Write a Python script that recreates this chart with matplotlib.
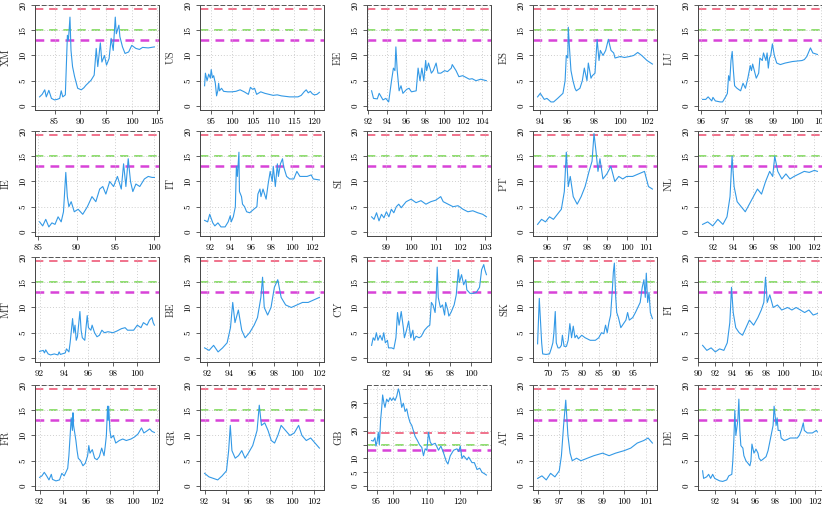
import numpy as np
import matplotlib
matplotlib.use("Agg")
import matplotlib.pyplot as plt

plt.rcParams['font.family'] = ['cmr10', 'DejaVu Serif']
plt.rcParams['axes.formatter.use_mathtext'] = True

# ---- data ----
xm_x = [82.1, 82.6, 83.1, 83.4, 83.9, 84.4, 85.0, 85.5, 86.0, 86.3, 86.6, 87.1, 87.5, 87.7, 88.0, 88.2, 88.5, 88.9,
        89.5, 90.2, 90.7, 91.1, 91.6, 92.1, 92.7, 93.1, 93.4, 93.9, 94.2, 94.7, 95.1, 95.6, 96.0, 96.4, 96.8, 97.0,
        97.5, 97.7, 98.2, 98.7, 99.4, 100.0, 100.8, 101.5, 102.1, 103.2, 104.4]
xm_y = [1.8, 2.3, 3.2, 1.8, 3.1, 1.5, 1.2, 1.3, 1.5, 3.0, 1.8, 2.2, 14.0, 13.0, 17.6, 11.0, 7.8, 5.8,
        3.5, 3.2, 3.6, 4.1, 4.6, 5.1, 6.1, 11.4, 7.8, 12.5, 8.7, 10.0, 8.1, 9.4, 13.4, 11.0, 17.6, 14.3,
        16.0, 13.7, 11.7, 10.4, 10.7, 12.0, 11.4, 11.2, 11.6, 11.5, 11.7]

us_x = [93.4, 93.6, 94.0, 94.4, 94.8, 95.0, 95.3, 95.6, 96.0, 96.3, 96.6, 96.8, 97.0, 97.5, 98.0, 99.0, 100.0, 101.0,
        102.0, 103.0, 104.0, 104.5, 105.0, 105.5, 106.0, 107.0, 108.0, 109.0, 110.0, 111.0, 112.0, 113.0, 114.0,
        115.0, 116.0, 116.8, 117.5, 118.0, 118.5, 119.0, 119.5, 120.0, 120.6, 121.2]
us_y = [4.0, 6.5, 5.0, 6.3, 5.5, 7.2, 5.6, 6.0, 4.5, 2.0, 3.0, 4.5, 3.0, 3.5, 2.9, 2.8, 2.8, 2.9,
        3.2, 2.8, 2.3, 3.7, 3.3, 3.5, 2.3, 2.8, 2.5, 2.3, 2.1, 2.2, 2.0, 1.9, 1.8,
        1.8, 1.8, 2.1, 2.8, 3.2, 2.6, 2.9, 2.4, 2.2, 2.3, 2.7]

ee_x = [92.4, 92.6, 93.0, 93.2, 93.6, 93.9, 94.2, 94.5, 94.7, 94.86, 94.96, 95.1, 95.3, 95.5, 95.7, 96.1, 96.35,
        96.6, 97.1, 97.3, 97.5, 97.7, 97.9, 98.1, 98.2, 98.4, 98.7, 98.9, 99.2, 99.4, 99.7, 100.1, 100.4, 100.8,
        100.9, 101.3, 101.6, 102.0, 102.3, 102.7, 103.0, 103.4, 103.9, 104.5]
ee_y = [3.0, 1.5, 1.4, 2.5, 1.2, 1.5, 0.8, 5.0, 7.5, 7.0, 11.7, 7.0, 3.0, 4.0, 2.5, 3.3, 3.5,
        2.8, 3.0, 7.5, 5.0, 7.5, 5.0, 9.0, 7.0, 8.5, 6.5, 7.0, 8.5, 6.5, 6.5, 7.0, 6.8, 7.5,
        8.2, 7.0, 5.8, 6.0, 5.7, 5.3, 5.4, 5.0, 5.3, 5.0]

es_x = [93.8, 94.0, 94.3, 94.5, 94.8, 95.0, 95.3, 95.5, 95.7, 95.86, 95.95, 96.06, 96.1, 96.2, 96.3, 96.45, 96.6,
        96.7, 96.97, 97.15, 97.3, 97.5, 97.6, 97.8, 97.9, 98.1, 98.26, 98.4, 98.5, 98.7, 98.9, 99.1, 99.3, 99.5,
        99.6, 100.0, 100.3, 100.7, 101.0, 101.3, 101.6, 102.0, 102.4]
es_y = [1.8, 2.5, 1.3, 1.5, 0.8, 0.8, 1.5, 2.0, 2.5, 5.0, 10.0, 9.5, 15.6, 11.0, 7.0, 5.0, 3.5,
        3.0, 3.5, 5.0, 7.5, 5.0, 8.5, 5.5, 6.0, 6.5, 13.2, 9.0, 11.0, 10.0, 11.0, 13.2, 11.0, 10.5,
        9.5, 9.8, 9.6, 9.8, 10.0, 10.6, 10.0, 9.0, 8.3]

lu_x = [96.07, 96.2, 96.3, 96.45, 96.5, 96.6, 96.8, 96.9, 97.05, 97.1, 97.15, 97.2, 97.25, 97.3, 97.35, 97.4, 97.5,
        97.65, 97.75, 97.85, 97.95, 98.05, 98.1, 98.15, 98.3, 98.4, 98.45, 98.55, 98.6, 98.7, 98.75, 98.8, 98.85,
        98.9, 98.97, 99.05, 99.15, 99.3, 99.5, 99.8, 100.2, 100.3, 100.4, 100.55, 100.65, 100.84]
lu_y = [1.3, 1.3, 1.8, 1.0, 1.7, 1.0, 0.8, 0.8, 2.0, 2.5, 6.0, 5.0, 9.0, 10.8, 7.0, 4.0, 3.5,
        3.0, 4.5, 3.5, 5.5, 8.0, 7.0, 8.3, 5.5, 6.5, 9.5, 9.0, 10.5, 9.0, 10.5, 7.5, 9.5,
        10.0, 12.3, 10.0, 8.5, 8.2, 8.5, 8.8, 9.0, 9.2, 9.8, 11.5, 10.5, 10.2]

ie_x = [85.2, 85.6, 86.0, 86.4, 86.8, 87.2, 87.6, 88.0, 88.3, 88.6, 88.8, 89.0, 89.3, 89.7, 90.2, 90.8, 91.4, 92.0,
        92.5, 93.0, 93.4, 93.8, 94.3, 94.8, 95.3, 95.8, 96.1, 96.4, 96.7, 97.0, 97.3, 97.7, 98.2, 98.8, 99.3, 99.8, 100.1]
ie_y = [2.0, 1.2, 2.5, 1.0, 1.8, 1.5, 3.0, 2.0, 4.0, 11.8, 7.0, 5.0, 6.0, 4.0, 4.5, 3.5, 5.0, 7.0,
        6.0, 8.5, 9.0, 7.5, 10.0, 9.0, 11.0, 8.5, 13.5, 9.0, 14.5, 10.0, 8.0, 9.5, 9.0, 10.5, 11.0, 10.8, 10.8]

it_x = [91.5, 91.8, 92.0, 92.3, 92.5, 92.8, 93.1, 93.5, 93.8, 94.0, 94.1, 94.3, 94.5, 94.6, 94.7, 94.85, 94.9, 95.1,
        95.2, 95.4, 95.6, 95.9, 96.3, 96.6, 96.7, 96.9, 97.0, 97.2, 97.5, 97.7, 97.9, 98.1, 98.2, 98.4, 98.6, 98.7,
        98.9, 99.1, 99.2, 99.5, 99.8, 100.2, 100.5, 100.8, 101.5, 101.9, 102.1, 102.7]
it_y = [2.3, 2.0, 3.5, 1.8, 1.2, 1.8, 1.0, 1.0, 2.0, 3.2, 2.0, 3.0, 5.0, 13.0, 11.0, 15.8, 8.0, 7.0,
        5.5, 5.0, 4.0, 3.8, 4.5, 5.0, 7.5, 8.5, 7.0, 8.5, 6.5, 9.5, 12.0, 10.0, 13.0, 9.0, 13.5, 11.0,
        13.5, 14.5, 13.0, 11.0, 10.5, 10.5, 12.0, 11.0, 11.0, 11.3, 10.5, 10.3]

si_x = [98.4, 98.5, 98.6, 98.7, 98.8, 98.9, 99.0, 99.1, 99.2, 99.3, 99.4, 99.5, 99.6, 99.8, 100.0, 100.2, 100.4,
        100.6, 100.8, 101.0, 101.2, 101.3, 101.5, 101.7, 101.9, 102.1, 102.3, 102.5, 102.7, 102.9, 103.05]
si_y = [3.0, 2.5, 3.8, 2.2, 3.5, 2.8, 4.0, 3.0, 4.5, 3.8, 5.0, 5.5, 4.8, 6.0, 6.5, 5.8, 6.2,
        5.5, 6.0, 6.3, 7.0, 6.0, 5.5, 5.0, 5.2, 4.5, 4.0, 4.2, 3.8, 3.5, 3.0]

pt_x = [95.5, 95.7, 95.9, 96.1, 96.3, 96.5, 96.7, 96.85, 96.95, 97.05, 97.15, 97.3, 97.5, 97.7, 97.9, 98.1, 98.25,
        98.35, 98.45, 98.55, 98.65, 98.8, 99.0, 99.2, 99.4, 99.6, 99.8, 100.0, 100.3, 100.6, 100.9, 101.1, 101.3]
pt_y = [1.5, 2.5, 2.0, 3.0, 2.5, 3.5, 4.5, 8.0, 15.8, 9.0, 11.0, 7.0, 5.5, 7.0, 9.0, 12.0, 14.0,
        19.5, 16.0, 12.0, 14.5, 10.5, 11.5, 13.0, 10.0, 11.0, 10.5, 11.0, 11.0, 11.5, 12.0, 9.0, 8.5]

nl_x = [91.0, 91.5, 92.0, 92.5, 93.0, 93.4, 93.7, 93.9, 94.1, 94.4, 94.8, 95.2, 95.6, 96.0, 96.4, 96.8, 97.2,
        97.6, 97.9, 98.1, 98.4, 98.8, 99.2, 99.6, 100.0, 100.5, 101.0, 101.5, 102.0, 102.3]
nl_y = [1.5, 2.0, 1.2, 2.5, 1.5, 3.0, 7.0, 15.0, 9.0, 6.0, 5.0, 4.0, 5.5, 7.0, 8.5, 7.5, 10.0,
        12.0, 11.0, 15.0, 12.0, 10.5, 11.5, 10.5, 11.0, 11.5, 12.0, 11.8, 12.2, 12.0]

mt_x = [92.0, 92.3, 92.4, 92.5, 92.7, 92.9, 93.2, 93.5, 93.6, 93.7, 94.1, 94.2, 94.4, 94.5, 94.7, 94.8, 94.9,
        95.0, 95.1, 95.3, 95.4, 95.5, 95.7, 95.8, 95.9, 96.0, 96.2, 96.3, 96.5, 96.7, 96.9, 97.1, 97.3, 97.6,
        98.0, 98.3, 98.7, 99.0, 99.2, 99.7, 100.0, 100.3, 100.5, 100.8, 101.0, 101.2, 101.3, 101.4]
mt_y = [1.3, 1.5, 1.0, 1.6, 0.8, 0.6, 0.8, 0.6, 1.2, 0.7, 1.0, 1.8, 1.2, 3.0, 7.8, 5.0, 6.5,
        3.5, 4.2, 9.2, 5.5, 4.0, 3.5, 6.0, 8.4, 6.0, 5.5, 6.5, 5.0, 4.2, 4.5, 5.5, 5.0, 5.2,
        5.0, 5.3, 5.8, 6.0, 5.5, 5.5, 6.5, 6.0, 7.0, 6.5, 7.5, 8.0, 7.0, 6.5]

be_x = [91.8, 92.2, 92.6, 93.0, 93.4, 93.8, 94.1, 94.3, 94.5, 94.8, 95.1, 95.4, 95.8, 96.2, 96.5, 96.8, 96.95,
        97.1, 97.4, 97.7, 98.0, 98.3, 98.6, 99.0, 99.5, 100.0, 100.5, 101.0, 101.5, 102.0]
be_y = [2.0, 1.5, 2.5, 1.2, 2.0, 3.0, 6.0, 11.0, 7.0, 9.5, 5.5, 4.0, 5.0, 6.5, 8.0, 12.0, 16.0,
        10.0, 8.5, 10.0, 14.0, 15.5, 12.0, 10.5, 10.0, 10.5, 11.0, 11.0, 11.5, 12.0]

cy_x = [90.6, 90.75, 90.9, 91.05, 91.2, 91.4, 91.6, 91.75, 91.9, 92.1, 92.2, 92.5, 92.7, 92.9, 93.05, 93.2, 93.4,
        93.6, 93.7, 93.9, 94.1, 94.3, 94.5, 94.6, 94.8, 95.1, 95.3, 95.6, 95.9, 96.1, 96.25, 96.4, 96.6, 96.7,
        96.8, 96.9, 97.1, 97.3, 97.5, 97.6, 97.8, 97.9, 98.1, 98.4, 98.6, 98.8, 98.9, 99.1, 99.3, 99.5, 99.6,
        99.9, 100.2, 100.5, 100.8, 101.0, 101.2, 101.3, 101.45]
cy_y = [2.5, 4.0, 3.5, 5.0, 3.5, 4.5, 3.5, 5.0, 3.0, 3.5, 2.0, 2.0, 1.8, 4.0, 9.0, 6.5, 9.2,
        6.0, 4.0, 5.5, 7.3, 4.0, 5.5, 3.5, 4.3, 4.0, 4.3, 5.5, 6.2, 6.5, 11.0, 10.5, 9.0, 12.0,
        18.0, 12.0, 10.0, 10.5, 8.5, 11.0, 9.5, 8.3, 9.0, 10.5, 12.5, 17.5, 15.0, 16.5, 14.5, 15.5, 13.5,
        12.8, 12.8, 13.0, 14.0, 17.5, 18.5, 17.5, 16.5]

sk_x = [67.0, 67.5, 67.8, 68.2, 68.5, 69.5, 70.5, 71.0, 71.5, 71.8, 72.2, 72.5, 73.0, 73.5, 74.0, 74.3, 74.8,
        75.5, 76.0, 76.5, 77.0, 77.5, 78.0, 78.5, 79.0, 80.0, 81.0, 82.5, 84.0, 85.0, 85.8, 86.5, 87.0, 87.5,
        88.0, 88.5, 89.0, 89.3, 89.6, 90.0, 90.3, 90.8, 91.5, 92.0, 93.0, 93.5, 94.0, 95.0, 95.8, 96.5, 97.2,
        97.8, 98.3, 98.7, 99.0, 99.4, 99.8, 100.2, 100.8]
sk_y = [2.8, 11.8, 8.0, 3.0, 0.8, 0.7, 0.8, 1.8, 3.0, 5.0, 9.2, 3.0, 2.0, 2.0, 2.5, 4.5, 2.3,
        2.3, 3.5, 6.8, 4.0, 6.3, 4.0, 4.5, 3.8, 4.5, 4.0, 3.5, 3.5, 4.0, 5.0, 4.8, 6.5, 5.0,
        7.0, 8.5, 13.5, 17.0, 18.8, 12.0, 9.0, 8.0, 6.0, 6.5, 7.5, 9.0, 7.5, 8.0, 9.0, 10.0, 11.0,
        14.0, 15.5, 12.0, 16.8, 11.0, 13.0, 9.0, 7.8]

fi_x = [90.5, 91.0, 91.5, 92.0, 92.5, 93.0, 93.4, 93.7, 93.9, 94.1, 94.4, 94.8, 95.2, 95.6, 96.0, 96.5, 97.0,
        97.4, 97.7, 97.9, 98.1, 98.4, 98.8, 99.3, 99.8, 100.5, 101.0, 101.5, 102.0, 102.5, 103.0, 103.5, 104.0]
fi_y = [2.5, 1.5, 2.0, 1.2, 1.8, 1.5, 3.0, 7.0, 14.0, 9.0, 6.0, 5.0, 4.5, 6.0, 7.5, 6.5, 8.0,
        9.5, 11.0, 16.0, 11.0, 12.5, 10.0, 10.5, 9.5, 10.0, 9.5, 10.0, 9.5, 9.0, 9.5, 8.5, 8.8]

fr_x = [92.0, 92.2, 92.4, 92.6, 92.8, 93.0, 93.1, 93.4, 93.7, 93.9, 94.1, 94.4, 94.5, 94.7, 94.8, 94.85, 94.9,
        95.1, 95.2, 95.3, 95.5, 95.7, 95.9, 96.1, 96.2, 96.3, 96.5, 96.7, 96.9, 97.1, 97.3, 97.5, 97.6, 97.7,
        97.8, 97.85, 97.9, 98.0, 98.1, 98.3, 98.5, 98.8, 99.1, 99.4, 99.8, 100.1, 100.4, 100.7, 100.9, 101.1,
        101.4, 101.6, 101.8]
fr_y = [1.7, 2.0, 2.7, 2.0, 1.2, 2.3, 1.3, 1.0, 1.2, 2.5, 2.0, 3.5, 6.0, 13.5, 11.0, 14.5, 12.0,
        9.0, 7.0, 5.5, 5.0, 4.0, 4.5, 6.0, 8.0, 6.5, 7.2, 5.5, 5.2, 5.8, 7.5, 6.0, 7.8, 10.0,
        15.8, 13.0, 15.8, 11.0, 9.5, 10.0, 8.5, 9.0, 9.3, 9.0, 9.3, 9.7, 10.3, 11.5, 10.5, 10.8,
        11.3, 10.8, 10.6]

gr_x = [92.0, 92.4, 92.8, 93.2, 93.6, 94.0, 94.2, 94.35, 94.5, 94.8, 95.1, 95.4, 95.7, 96.0, 96.4, 96.8, 97.0,
        97.2, 97.5, 97.8, 98.1, 98.4, 98.7, 99.0, 99.4, 99.8, 100.2, 100.6, 100.9, 101.3, 101.7, 102.1, 102.5]
gr_y = [2.5, 1.8, 1.5, 1.2, 2.0, 3.0, 7.0, 12.0, 7.0, 5.5, 6.0, 7.0, 5.5, 6.5, 8.0, 11.0, 16.0,
        12.0, 12.5, 11.0, 9.0, 8.5, 10.0, 12.0, 11.0, 10.0, 10.5, 12.0, 10.0, 9.0, 9.5, 8.5, 7.5]

gb_x = [93.5, 94.0, 94.5, 94.8, 95.2, 95.5, 95.8, 96.2, 96.5, 96.8, 97.2, 97.5, 98.0, 98.5, 99.0, 99.5, 100.0,
        100.5, 101.0, 101.5, 101.8, 102.2, 102.5, 103.0, 103.5, 104.0, 104.5, 105.0, 105.5, 106.0, 106.5, 107.2,
        107.8, 108.5, 109.0, 109.5, 110.0, 110.5, 111.0, 111.5, 112.5, 113.5, 114.2, 115.0, 115.8, 116.3, 117.0,
        118.0, 119.0, 119.5, 120.0, 120.5, 121.0, 122.0, 122.5, 123.5, 124.2, 125.0, 125.8, 126.5, 127.2, 127.8]
gb_y = [16.5, 16.3, 17.5, 14.5, 16.5, 19.5, 15.0, 24.0, 28.0, 33.0, 30.0, 28.5, 31.5, 30.5, 32.0, 31.0, 32.0,
        31.0, 32.5, 35.2, 34.0, 31.0, 28.5, 30.0, 27.0, 28.0, 25.0, 23.0, 22.0, 20.0, 18.0, 16.5,
        15.0, 14.0, 11.0, 13.5, 13.0, 19.5, 16.0, 15.0, 15.5, 13.0, 14.5, 12.0, 9.0, 8.0, 11.0,
        13.0, 13.5, 12.5, 14.5, 10.0, 11.0, 9.5, 10.5, 8.5, 8.5, 6.0, 6.5, 5.0, 4.5, 4.0]

at_x = [96.0, 96.2, 96.4, 96.6, 96.8, 97.0, 97.1, 97.2, 97.3, 97.4, 97.5, 97.6, 97.8, 98.0, 98.3, 98.6, 99.0,
        99.3, 99.6, 100.0, 100.3, 100.6, 100.9, 101.1, 101.3]
at_y = [1.5, 2.0, 1.2, 2.5, 1.8, 3.0, 6.0, 12.0, 17.0, 10.0, 6.5, 5.0, 5.5, 5.0, 5.5, 6.0, 6.5,
        6.0, 6.5, 7.0, 7.5, 8.5, 9.0, 9.5, 8.5]

de_x = [90.8, 90.9, 91.2, 91.4, 91.6, 91.8, 92.0, 92.3, 92.5, 92.8, 93.2, 93.4, 93.7, 93.8, 93.9, 94.0, 94.1,
        94.3, 94.4, 94.5, 94.6, 94.8, 94.9, 95.1, 95.3, 95.5, 95.6, 95.7, 95.9, 96.1, 96.3, 96.4, 96.6, 96.8,
        97.1, 97.3, 97.5, 97.6, 97.8, 97.9, 98.1, 98.2, 98.3, 98.5, 98.6, 98.9, 99.2, 99.5, 99.9, 100.2, 100.4,
        100.6, 100.8, 100.9, 101.2, 101.7, 102.1, 102.2]
de_y = [3.0, 1.5, 1.8, 2.3, 1.5, 2.3, 1.5, 1.2, 1.0, 0.9, 1.2, 2.0, 2.3, 5.0, 9.0, 15.0, 10.0,
        13.0, 17.2, 11.0, 8.0, 7.5, 6.0, 5.0, 4.5, 4.0, 5.0, 8.3, 6.5, 7.3, 6.5, 5.5, 5.0, 5.3,
        5.8, 7.0, 9.0, 10.0, 12.0, 15.8, 12.0, 13.5, 11.0, 11.0, 9.5, 9.0, 9.2, 9.5, 9.5, 9.5, 10.0,
        11.0, 12.5, 11.0, 10.5, 10.5, 11.0, 10.7]

names = ["XM", "US", "EE", "ES", "LU",
         "IE", "IT", "SI", "PT", "NL",
         "MT", "BE", "CY", "SK", "FI",
         "FR", "GR", "GB", "AT", "DE"]
series = [(xm_x, xm_y), (us_x, us_y), (ee_x, ee_y), (es_x, es_y), (lu_x, lu_y),
          (ie_x, ie_y), (it_x, it_y), (si_x, si_y), (pt_x, pt_y), (nl_x, nl_y),
          (mt_x, mt_y), (be_x, be_y), (cy_x, cy_y), (sk_x, sk_y), (fi_x, fi_y),
          (fr_x, fr_y), (gr_x, gr_y), (gb_x, gb_y), (at_x, at_y), (de_x, de_y)]
xticks = [[85, 90, 95, 100, 105], [95, 100, 105, 110, 115, 120], [92, 94, 96, 98, 100, 102, 104],
          [94, 96, 98, 100, 102], [96, 97, 98, 99, 100, 101],
          [85, 90, 95, 100], [92, 94, 96, 98, 100, 102], [99, 100, 101, 102, 103],
          [96, 97, 98, 99, 100, 101], [92, 94, 96, 98, 100, 102],
          [92, 94, 96, 98, 100], [92, 94, 96, 98, 100, 102], [92, 94, 96, 98, 100],
          [70, 75, 80, 85, 90, 95, 100], [90, 92, 94, 96, 98, 100, 102, 104],
          [92, 94, 96, 98, 100, 102], [92, 94, 96, 98, 100, 102], [95, 100, 105, 110, 115, 120, 125],
          [96, 97, 98, 99, 100, 101], [92, 94, 96, 98, 100, 102]]
hidden_xlabels = {"SK": [100], "FI": [102], "GB": [105, 115, 125]}

red_level = 19.3
green_level = 15
magenta_level = 13

# layout in pixels
W, H = 822, 509
col_left = [35, 200, 367, 533, 698]
row_top = [5, 131, 257, 385]
pw, ph = 124, 105

fig = plt.figure(figsize=(W / 100, H / 100), dpi=100)

for i, name in enumerate(names):
    r, c = divmod(i, 5)
    ax = fig.add_axes([col_left[c] / W, 1 - (row_top[r] + ph) / H, pw / W, ph / H])
    x, y = series[i]
    ax.axhline(red_level, color='#EE5A78', ls=(0, (5, 3.5)), lw=1.2, zorder=1)
    ax.axhline(green_level, color='#7DD957', ls=(0, (5, 3.5)), lw=1.2, zorder=1)
    ax.axhline(magenta_level, color='#D843D8', ls=(0, (3.5, 2.5)), lw=1.8, zorder=1)
    ax.plot(x, y, color='#3399E6', lw=0.8, zorder=3)

    span = max(x) - min(x)
    ax.set_xlim(min(x) - 0.04 * span, max(x) + 0.04 * span)
    if name == "GB":
        ymax = max(y)
        ax.set_ylim(-0.04 * ymax, ymax * 1.04)
        yt = [0, 5, 10, 15, 20, 25, 30, 35]
        ylab = ['0', '5', '10', '', '20', '', '30', '']
    else:
        ax.set_ylim(-0.8, 20)
        yt = [0, 5, 10, 15, 20]
        ylab = [str(v) for v in yt]
    ax.set_yticks(yt)
    ax.set_yticklabels(ylab, rotation=90, va='center', fontsize=6.5)
    xt = xticks[i]
    ax.set_xticks(xt)
    hid = hidden_xlabels.get(name, [])
    ax.set_xticklabels(['' if v in hid else str(v) for v in xt], fontsize=6.5)

    ax.grid(True, color='#cfcfcf', ls=(0, (1, 2)), lw=0.7, zorder=0)
    ax.tick_params(length=3, width=0.6, color='#444444', pad=2.5)
    for s in ['left', 'bottom', 'right']:
        ax.spines[s].set_color('#444444')
        ax.spines[s].set_linewidth(0.7)
    ax.spines['top'].set_linestyle((0, (4, 3)))
    ax.spines['top'].set_color('#555555')
    ax.spines['top'].set_linewidth(0.7)

    ax.set_ylabel(name, fontsize=7.5, color='#333333')
    ax.yaxis.set_label_coords(-24 / pw, 0.5)

fig.savefig("out.png", dpi=100)
